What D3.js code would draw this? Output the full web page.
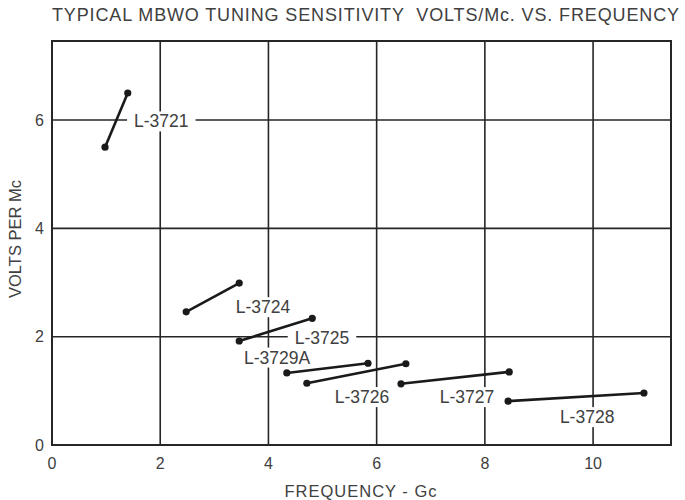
<!DOCTYPE html>
<html>
<head>
<meta charset="utf-8">
<script src="https://cdn.jsdelivr.net/npm/d3@7"></script>
<style>
    body { margin: 0; background: #fff; }
    text { font-family: "Liberation Sans", Arial, Helvetica, sans-serif; fill: #404040; }
</style>
</head>
<body>
<div id="chart"></div>
<script>
// tube types and the two ends of each tuning range (Gc, volts per Mc)
const tubes = ["L-3721", "L-3724", "L-3725", "L-3729A", "L-3726", "L-3727", "L-3728"]
const freqLow = [0.98, 2.48, 3.46, 4.34, 4.71, 6.45, 8.43]
const voltsLow = [5.50, 2.46, 1.92, 1.33, 1.14, 1.13, 0.81]
const freqHigh = [1.40, 3.46, 4.81, 5.84, 6.54, 8.45, 10.94]
const voltsHigh = [6.50, 2.99, 2.34, 1.51, 1.50, 1.35, 0.96]
// where each tube name sits, in data units
const labelFreq = [2.02, 3.90, 4.99, 4.16, 5.73, 7.67, 9.89]
const labelVolts = [5.98, 2.55, 1.98, 1.62, 0.89, 0.89, 0.52]

const xTicks = [0, 2, 4, 6, 8, 10]
const yTicks = [0, 2, 4, 6]

const width = 685
const height = 500
const margin = {top: 41, right: 14, bottom: 55, left: 52}

const x = d3.scaleLinear().domain([0, 11.44]).range([margin.left, width - margin.right])
const y = d3.scaleLinear().domain([0, 7.46]).range([height - margin.bottom, margin.top])

const svg = d3.select("#chart").append("svg")
    .attr("width", width)
    .attr("height", height)

const ink = "#262626"

// title (two spaces before VOLTS, as printed)
svg.append("text")
    .attr("x", 52)
    .attr("y", 21)
    .attr("font-size", 18)
    .attr("textLength", 627)
    .attr("lengthAdjust", "spacing")
    .style("white-space", "pre")
    .text("TYPICAL MBWO TUNING SENSITIVITY  VOLTS/Mc. VS. FREQUENCY")

// grid
const grid = svg.append("g")
    .attr("stroke", ink)
    .attr("stroke-width", 1.6)

grid.selectAll("line.vx")
    .data(xTicks.filter(d => d > 0))
    .join("line")
    .attr("class", "vx")
    .attr("x1", d => x(d)).attr("x2", d => x(d))
    .attr("y1", y(7.46)).attr("y2", y(0))

grid.selectAll("line.hy")
    .data(yTicks.filter(d => d > 0))
    .join("line")
    .attr("class", "hy")
    .attr("x1", x(0)).attr("x2", x(11.44))
    .attr("y1", d => y(d)).attr("y2", d => y(d))

svg.append("rect")
    .attr("x", x(0)).attr("y", y(7.46))
    .attr("width", x(11.44) - x(0))
    .attr("height", y(0) - y(7.46))
    .attr("fill", "none")
    .attr("stroke", ink)
    .attr("stroke-width", 2)

// tick labels
svg.append("g")
    .selectAll("text")
    .data(xTicks)
    .join("text")
    .attr("x", d => x(d))
    .attr("y", 469)
    .attr("text-anchor", "middle")
    .attr("font-size", 16)
    .text(d => d)

svg.append("g")
    .selectAll("text")
    .data(yTicks)
    .join("text")
    .attr("x", 44)
    .attr("y", d => y(d))
    .attr("dy", "0.36em")
    .attr("text-anchor", "end")
    .attr("font-size", 16)
    .text(d => d)

// axis titles
svg.append("text")
    .attr("x", 361)
    .attr("y", 497)
    .attr("text-anchor", "middle")
    .attr("font-size", 16.5)
    .attr("letter-spacing", 1)
    .text("FREQUENCY - Gc")

svg.append("text")
    .attr("transform", "translate(21,239) rotate(-90)")
    .attr("text-anchor", "middle")
    .attr("font-size", 16.5)
    .text("VOLTS PER Mc")

// tube labels with a white patch that breaks the grid behind them
const rows = tubes.map((name, i) => ({
    name,
    x1: freqLow[i], y1: voltsLow[i],
    x2: freqHigh[i], y2: voltsHigh[i],
    lx: labelFreq[i], ly: labelVolts[i],
}))

const patches = svg.append("g")
const marks = svg.append("g")
const labels = svg.append("g")

labels.selectAll("text")
    .data(rows)
    .join("text")
    .attr("x", d => x(d.lx))
    .attr("y", d => y(d.ly))
    .attr("dy", "0.36em")
    .attr("text-anchor", "middle")
    .attr("font-size", 17.5)
    .text(d => d.name)
    .each(function (d) { d.box = this.getBBox() })

patches.selectAll("rect")
    .data(rows)
    .join("rect")
    .attr("x", d => d.box.x - 7)
    .attr("y", d => d.box.y)
    .attr("width", d => d.box.width + 14)
    .attr("height", d => d.box.height)
    .attr("fill", "#fff")

marks.selectAll("line")
    .data(rows)
    .join("line")
    .attr("x1", d => x(d.x1)).attr("y1", d => y(d.y1))
    .attr("x2", d => x(d.x2)).attr("y2", d => y(d.y2))
    .attr("stroke", "#1a1a1a")
    .attr("stroke-width", 2.6)

marks.selectAll("circle")
    .data(rows.flatMap(d => [[d.x1, d.y1], [d.x2, d.y2]]))
    .join("circle")
    .attr("cx", d => x(d[0]))
    .attr("cy", d => y(d[1]))
    .attr("r", 3.6)
    .attr("fill", "#1a1a1a")
</script>
</body>
</html>
